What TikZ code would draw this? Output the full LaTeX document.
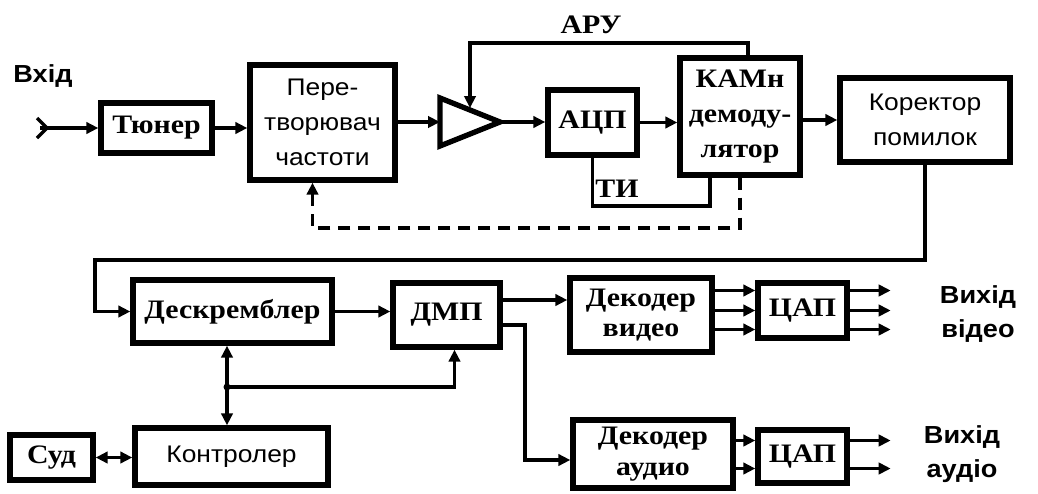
\documentclass[tikz,border=0pt]{standalone}
\usepackage{fontspec}
\setmainfont{Liberation Serif}[FakeStretch=1.12]
\newfontfamily\sansf{Liberation Sans}[FakeStretch=1.1]
\usetikzlibrary{arrows.meta,calc}
\tikzset{
  blk/.style={draw,line width=4pt,inner sep=0pt,align=center},
  sbox/.style={blk,font=\fontsize{20}{23}\selectfont\bfseries},
  abox/.style={blk,font=\sansf\fontsize{18}{26}\selectfont},
  conn/.style={line width=2.6pt,-{Triangle[length=9pt,width=8.5pt]}},
  plain/.style={line width=2.6pt},
  bidir/.style={line width=2.6pt,{Triangle[length=9pt,width=8.5pt]}-{Triangle[length=9pt,width=8.5pt]}},
  lbl/.style={font=\sansf\bfseries\fontsize{18.5}{25}\selectfont,align=center},
  slbl/.style={font=\fontsize{20}{22}\selectfont\bfseries}
}
\begin{document}
\begin{tikzpicture}[x=0.75pt,y=-0.75pt]
\useasboundingbox (0,0) rectangle (1038,493);
% blocks
\node[sbox,minimum width=111*0.75pt,minimum height=50*0.75pt] (tuner) at (156.5,128) {Тюнер};
\node[abox,minimum width=145*0.75pt,minimum height=115*0.75pt] (conv) at (322.5,122.5) {Пере-\\творювач\\частоти};
\node[sbox,minimum width=89*0.75pt,minimum height=65*0.75pt] (adc) at (592.5,122.5) {АЦП};
\node[sbox,minimum width=120*0.75pt,minimum height=117*0.75pt,font=\fontsize{20}{26}\selectfont\bfseries] (kam) at (740,116.5) {КАМн\\демоду-\\лятор};
\node[abox,minimum width=170*0.75pt,minimum height=84*0.75pt] (corr) at (925,120) {Коректор\\помилок};
\node[sbox,minimum width=199*0.75pt,minimum height=63*0.75pt] (desc) at (232.5,311.5) {Дескремблер};
\node[sbox,minimum width=107*0.75pt,minimum height=64*0.75pt] (dmp) at (446.5,315) {ДМП};
\node[sbox,minimum width=142*0.75pt,minimum height=74*0.75pt] (decv) at (641,315) {Декодер\\видео};
\node[sbox,minimum width=89*0.75pt,minimum height=55*0.75pt] (dacv) at (802.5,310.5) {ЦАП};
\node[sbox,minimum width=160*0.75pt,minimum height=68*0.75pt] (deca) at (653,454) {Декодер\\аудио};
\node[sbox,minimum width=89*0.75pt,minimum height=53*0.75pt] (daca) at (802.5,456.5) {ЦАП};
\node[sbox,minimum width=83*0.75pt,minimum height=45*0.75pt] (sud) at (51.5,457.5) {Суд};
\node[abox,minimum width=193*0.75pt,minimum height=57*0.75pt] (ctrl) at (231.5,456.5) {Контролер};
% amplifier
\coordinate (ampin) at (440,122);
\coordinate (ampout) at (500,122);
\coordinate (amptop) at (470,108);
\draw[line width=4pt,line join=miter] (440,98) -- (500,122) -- (440,146) -- cycle;
% labels
\node[lbl] (vin) at (43,76) {Вхід};
\node[slbl] (aru) at (591,25) {АРУ};
\node[slbl] (ti) at (617,189) {ТИ};
\node[lbl] (vout) at (978,314) {Вихід\\відео};
\node[lbl] (aout) at (962,454) {Вихід\\аудіо};
% input
\coordinate (in) at (40,128);
\draw[plain] (37,118) -- (47,128) -- (37,138);
\draw[conn] (in) -- (tuner.west);
\draw[conn] (tuner.east) -- (tuner.east -| conv.west);
\draw[conn] (conv.east |- ampin) -- (ampin);
\draw[conn] (ampout) -- (ampout -| adc.west);
\draw[conn] (adc.east) -- (adc.east -| kam.west);
\draw[conn] (kam.east |- corr.west) -- (corr.west);
% AGC
\draw[conn] ($(kam.north)+(8,0)$) |- (470,43) -- (amptop);
% TI
\draw[plain] (adc.south) |- (710,206) -- ($(kam.south)+(-30,0)$);
% dashed
\draw[conn,dashed,dash pattern=on 9pt off 6pt] (kam.south) -- (740,228) -| ($(conv.south)+(-10,0)$);
% corrector to descrambler
\draw[conn] (corr.south) |- (95,260) |- (desc.west);
\draw[conn] (desc.east) -- (desc.east -| dmp.west);
% dmp outputs
\draw[conn] ($(dmp.east)+(0,-15)$) -- ($(dmp.east -| decv.west)+(0,-15)$);
\draw[conn] ($(dmp.east)+(0,10)$) -- (525,325) |- ($(deca.west)+(0,6)$);
% control bus
\coordinate (bus) at (227,387);
\draw[conn] (bus) -- (bus |- desc.south);
\draw[conn] (bus) -- (bus |- ctrl.north);
\draw[conn] (bus) -| ($(dmp.south)+(8,0)$);
\fill (bus) circle (3.5);
\draw[bidir] (sud.east) -- (sud.east -| ctrl.west);
% video DAC
\foreach \d in {-20,0,19}{
  \draw[conn] ($(decv.east |- dacv.west)+(0,\d)$) -- ($(dacv.west)+(0,\d)$);
  \draw[conn] ($(dacv.east)+(0,\d)$) -- ($(dacv.east)+(41,\d)$);
}
\foreach \d in {-16,12}{
  \draw[conn] ($(deca.east |- daca.west)+(0,\d)$) -- ($(daca.west)+(0,\d)$);
  \draw[conn] ($(daca.east)+(0,\d)$) -- ($(daca.east)+(41,\d)$);
}
\end{tikzpicture}
\end{document}
